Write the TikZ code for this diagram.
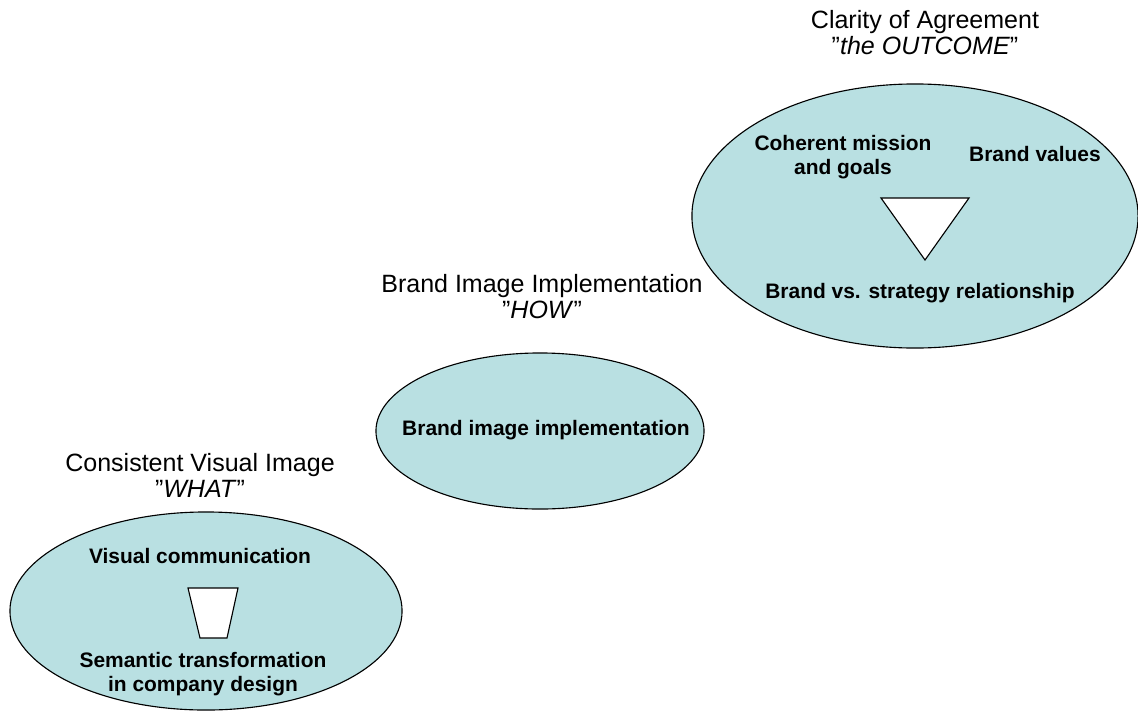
\documentclass[tikz,border=0pt]{standalone}
\usepackage{fontspec}
\setmainfont{Liberation Sans}
\usetikzlibrary{shapes.geometric}
\definecolor{stagefill}{RGB}{185,224,226}
\tikzstyle{stage}=[ellipse,draw=black,line width=0.8pt,fill=stagefill,inner sep=0pt]
\tikzstyle{heading}=[align=center,font=\fontsize{17.8}{18.5}\selectfont]
\tikzstyle{item}=[align=center,font=\bfseries\fontsize{14.9}{17}\selectfont]
\tikzstyle{funnel}=[draw=black,line width=0.8pt,fill=white,line join=miter]
\newcommand{\drawstage}[5]{% Syntax: {name}{x}{y}{half width}{half height}, all in pixels
  \node[stage,minimum width=#4*0.05cm,minimum height=#5*0.05cm] (#1) at (#2,#3) {};
}

\begin{document}
\begin{tikzpicture}[x=0.025cm,y=-0.025cm]
  \useasboundingbox (0,0) rectangle (1138,711);
  % what
  \drawstage{what}{206}{611}{196}{99}
  \node[heading] (whattitle) at (200,475) {Consistent Visual Image\\”\textit{WHAT}”};
  \node[item] (visual) at (200,556) {Visual communication};
  \node[item] (semantic) at (203,674) {Semantic transformation\\in company design};
  \draw[funnel] (188,588) -- (238,588) -- (227,638) -- (200,638) -- cycle;
  % how
  \drawstage{how}{540}{431}{164}{78}
  \node[heading] (howtitle) at (542,297) {Brand Image Implementation\\”\textit{HOW}”};
  \node[item] (implementation) at (546,430) {Brand image implementation};
  % outcome
  \drawstage{outcome}{915}{216}{223}{132}
  \node[heading] (outcometitle) at (925,33) {Clarity of Agreement\\”\textit{the OUTCOME}”};
  \node[item] (mission) at (843,157) {Coherent mission\\and goals};
  \node[item] (values) at (1035,154) {Brand values};
  \node[item] (relationship) at (920,293) {Brand vs. strategy relationship};
  \draw[funnel] (881,198) -- (969,198) -- (925,260) -- cycle;
\end{tikzpicture}
\end{document}
